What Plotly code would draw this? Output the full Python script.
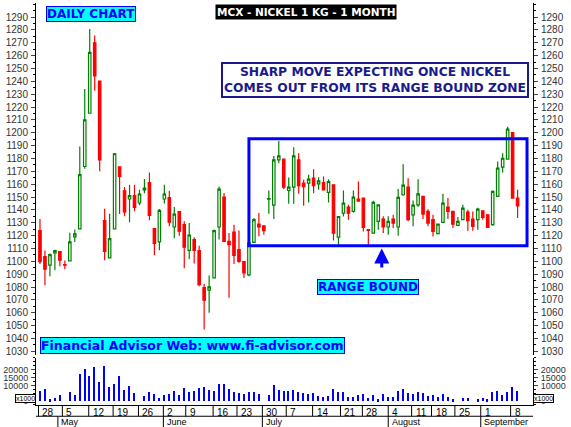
import plotly.graph_objects as go

# daily OHLC (trading day index 1..97)
opens = [1124, 1103.7, 1097, 1106.5, 1107.6, 1097.4, 1100.3, 1119, 1125.2, 1173.8,
         1215.2, 1270, 1240.3, 1131.6, 1102.7, 1125.2, 1173.6, 1154.9, 1148.5, 1151.1,
         1145.4, 1155.5, 1161.2, 1125.4, 1115.1, 1148.5, 1149.5, 1126.7, 1138.6, 1128.5,
         1108.6, 1116.9, 1108.4, 1079.6, 1077.6, 1087.1, 1126.7, 1150, 1115.6, 1122.8,
         1109.1, 1099.8, 1089.5, 1114.8, 1129, 1127.7, 1148.4, 1143.7, 1178.9, 1179.5,
         1155.1, 1157.7, 1178.9, 1160.8, 1160.8, 1164.7, 1160.3, 1161.3, 1153.6, 1159.5,
         1118.9, 1137.5, 1142.2, 1138.8, 1148.4, 1149.2, 1124.6, 1122, 1131.1, 1132.9,
         1126.7, 1132.9, 1126.7, 1151.8, 1157.7, 1136.2, 1144, 1150.5, 1138.8, 1132.4,
         1121.5, 1130.3, 1142.2, 1138.8, 1128, 1132.4, 1138.3, 1132.9, 1132.4, 1139.3,
         1136.2, 1128.5, 1150.5, 1173.3, 1179.5, 1200.2, 1149.2]
highs = [1133, 1108.4, 1106, 1109.1, 1107.6, 1100.6, 1122.3, 1124.7, 1189.4, 1234,
         1280.7, 1275.8, 1240.3, 1141, 1137, 1184.2, 1173.6, 1157.8, 1159.6, 1159.6,
         1155.7, 1164, 1169.2, 1125.4, 1140.7, 1159.6, 1155, 1142.3, 1138.6, 1131.1,
         1129.8, 1118.7, 1112.2, 1082.5, 1089, 1124.7, 1158.3, 1153.1, 1122, 1128.5,
         1123.9, 1099.8, 1115.6, 1133.7, 1137.6, 1128, 1155.1, 1182, 1193.7, 1179.5,
         1165.2, 1188.8, 1184.1, 1163.4, 1167.3, 1171.7, 1165.5, 1166, 1163.9, 1159.5,
         1134.9, 1155.1, 1144, 1155.1, 1162.1, 1149.2, 1124.6, 1147.1, 1144, 1135,
         1135, 1136.2, 1156.2, 1175.6, 1164.7, 1147.4, 1163.9, 1150.5, 1140.6, 1136.2,
         1129, 1152.5, 1149.2, 1138.8, 1134.4, 1144, 1140.1, 1138.8, 1141.7, 1139.3,
         1136.2, 1155.1, 1177.6, 1184.1, 1204.8, 1200.2, 1155.7]
lows = [1098, 1081.4, 1088.4, 1093.1, 1096.2, 1093.9, 1100.3, 1115.1, 1125.2, 1172,
        1215, 1232.8, 1170, 1100.9, 1102.7, 1125.2, 1136.8, 1135, 1130.4, 1138.9,
        1143.6, 1153, 1131.9, 1104.7, 1108.6, 1144.9, 1127.3, 1118, 1120, 1094.6,
        1101.6, 1098.3, 1080.7, 1047, 1060, 1087.1, 1116.9, 1115.6, 1071.6, 1098,
        1098.8, 1087.1, 1088.4, 1114.8, 1119.5, 1120.7, 1137, 1132.9, 1176.4, 1156.2,
        1144.8, 1144.8, 1152.5, 1143.2, 1145.8, 1153, 1155.6, 1155.1, 1145.8, 1116.3,
        1112.2, 1134.9, 1132.4, 1138, 1146.9, 1123.3, 1111.7, 1122, 1124.6, 1122,
        1120.7, 1125.9, 1119.9, 1151, 1131.1, 1127.2, 1142.2, 1132.9, 1127.2, 1119.4,
        1121.5, 1129.8, 1132.9, 1125.9, 1128, 1132.4, 1123.8, 1123.8, 1124.6, 1132.4,
        1126.4, 1127.7, 1150.5, 1169.1, 1179.5, 1149.2, 1133.7]
closes = [1099.8, 1093.9, 1105.2, 1108.4, 1100.9, 1097, 1115.1, 1121.3, 1167.4, 1210,
          1262.6, 1244.2, 1179, 1107.8, 1117.7, 1183.7, 1166.1, 1138.4, 1151.1, 1142,
          1152.4, 1157, 1135.8, 1114, 1139.7, 1152.4, 1130.4, 1136.8, 1123.4, 1111,
          1120.5, 1108.6, 1081.9, 1069.8, 1080.1, 1123.9, 1156.2, 1115.6, 1113, 1104.7,
          1100, 1091, 1114.3, 1132.4, 1126.7, 1123.8, 1148.9, 1178.9, 1182, 1157.7,
          1157.7, 1182, 1158.8, 1158.2, 1163.9, 1158.8, 1162.6, 1155.6, 1162.1, 1122,
          1134.9, 1145.3, 1137.5, 1150, 1146.9, 1126.4, 1124, 1145.8, 1144, 1126.7,
          1131.1, 1129.8, 1149.7, 1159.3, 1132.4, 1143.7, 1152.5, 1136.8, 1129.8, 1123.3,
          1129, 1145.3, 1138.8, 1129, 1131.1, 1141.4, 1131.6, 1127.2, 1140.6, 1134.2,
          1126.4, 1154.4, 1172.5, 1180.2, 1202.8, 1149.2, 1143.2]
volumes = [6730, 7850, 1120, 1680, 3930, 0, 5610, 3930, 17580, 20200,
           15900, 22070, 11970, 22630, 8980, 10660, 15900, 7290, 9540, 5050,
           0, 3370, 5610, 4490, 1680, 3930, 4490, 6170, 3930, 8420,
           5610, 6170, 8420, 8980, 7290, 6170, 10660, 11220, 7850, 5610,
           5050, 4490, 5610, 5610, 4490, 0, 3930, 10100, 7290, 6170,
           6170, 7290, 5610, 5050, 4490, 5050, 3370, 2800, 3370, 7850,
           5610, 5610, 2800, 2800, 3930, 4490, 1680, 3930, 1120, 4490,
           2800, 2800, 6730, 7850, 5050, 4490, 5610, 5050, 3370, 3930,
           2800, 4490, 2800, 1120, 0, 2240, 2240, 0, 1120, 1680,
           1120, 5610, 6170, 3930, 5610, 8980, 6170]
days = list(range(1, len(opens) + 1))

week_ticks = [0.7, 5.5, 10.8, 15.7, 20.8, 25.8, 30.3, 35.8, 40.6, 45.7,
              50.5, 55.8, 61.4, 65.8, 71, 75.7, 79.7, 84.4, 89.6, 95.6]
week_labels = ["28", "5", "12", "19", "26", "2", "9", "16", "23", "30",
               "7", "14", "21", "28", "4", "11", "18", "25", "1", "8"]
month_pos = [4.6, 25.8, 45.7, 71, 89.6]
month_labels = ["May", "June", "July", "August", "September"]

price_ticks = list(range(1030, 1300, 10))
vol_ticks = [0, 10000, 15000, 20000]
vol_text = ["0", "10000", "15000", "20000"]

BLUE = "#0000ff"
NAVY = "#1a1a8c"
CYAN = "#00ffff"
FONT = "DejaVu Sans"

fig = go.Figure()
fig.add_trace(go.Candlestick(
    x=days, open=opens, high=highs, low=lows, close=closes,
    increasing=dict(line=dict(color="#008000", width=1.2), fillcolor="white"),
    decreasing=dict(line=dict(color="#ff0000", width=1.2), fillcolor="#ff0000"),
    whiskerwidth=0, showlegend=False, xaxis="x", yaxis="y"))
# ghost traces so the right-hand axes get drawn too
fig.add_trace(go.Scatter(x=[days[0], days[-1]], y=[price_ticks[0], price_ticks[-1]],
                         mode="markers", marker=dict(opacity=0), hoverinfo="skip",
                         showlegend=False, xaxis="x", yaxis="y3"))
fig.add_trace(go.Bar(x=days, y=volumes, marker=dict(color=BLUE, line=dict(width=0)),
                     width=0.3, showlegend=False, xaxis="x2", yaxis="y2"))
fig.add_trace(go.Scatter(x=[days[0], days[-1]], y=[0, vol_ticks[-1]],
                         mode="markers", marker=dict(opacity=0), hoverinfo="skip",
                         showlegend=False, xaxis="x2", yaxis="y4"))

tickfont = dict(family="Arial", size=10, color="#333")
yax = dict(range=[1027, 1301], tickvals=price_ticks, ticks="outside", ticklen=4,
           tickfont=tickfont, showgrid=False, zeroline=False, showline=True,
           linecolor="black", linewidth=1, domain=[0.124, 1], automargin=False,
           ticklabelstandoff=1,
           minor=dict(ticks="outside", ticklen=2, dtick=5, tickcolor="black"))
vax = dict(range=[-2500, 27500], tickvals=vol_ticks, ticktext=vol_text,
           ticks="outside", ticklen=4, tickfont=dict(tickfont, size=9),
           showgrid=False, zeroline=False, showline=True, linecolor="black",
           linewidth=1, domain=[0, 0.117], automargin=False, ticklabelstandoff=1,
           minor=dict(ticks="outside", ticklen=2, dtick=2500, tickcolor="black"))

fig.update_layout(
    width=571, height=427, margin=dict(l=36, r=38, t=3, b=22),
    paper_bgcolor="white", plot_bgcolor="white",
    xaxis=dict(range=[0.2, 100.1], showticklabels=False, ticks="", showgrid=False,
               zeroline=False, rangeslider=dict(visible=False), anchor="y",
               matches="x2", automargin=False),
    xaxis2=dict(range=[0.2, 100.1], showticklabels=False, ticks="", showgrid=False,
                zeroline=False, showline=True, linecolor="black", anchor="y2",
                automargin=False),
    yaxis=yax,
    yaxis3=dict(yax, overlaying="y", side="right", anchor="x"),
    yaxis2=vax,
    yaxis4=dict(vax, overlaying="y2", side="right", anchor="x2"),
    bargap=0,
)

shapes = []
for t in week_ticks:
    shapes.append(dict(type="line", xref="x2", yref="paper", x0=t, x1=t,
                       y0=-0.028, y1=0, line=dict(color="black", width=1)))
for t in month_pos:
    shapes.append(dict(type="line", xref="x2", yref="paper", x0=t, x1=t,
                       y0=-0.055, y1=-0.028, line=dict(color="black", width=1)))
shapes.append(dict(type="line", xref="paper", yref="paper", x0=0, x1=1,
                   y0=-0.028, y1=-0.028, line=dict(color="black", width=1)))
shapes.append(dict(type="rect", xref="x", yref="y", x0=43, x1=98.9,
                   y0=1112.2, y1=1195.3, line=dict(color=BLUE, width=3)))
fig.update_layout(shapes=shapes)

ann = []
for pos, lab in zip(week_ticks, week_labels):
    ann.append(dict(x=pos + 0.4, y=-0.001, xref="x2", yref="paper", text=lab,
                    showarrow=False, xanchor="left", yanchor="top",
                    font=dict(family="Arial", size=10, color="black")))
for pos, lab in zip(month_pos, month_labels):
    ann.append(dict(x=pos + 0.3, y=-0.026, xref="x2", yref="paper", text=lab,
                    showarrow=False, xanchor="left", yanchor="top",
                    font=dict(family="Arial", size=9, color="black")))
ann += [
    dict(x=0.02, y=0.993, xref="paper", yref="paper", text="<b>DAILY CHART</b>",
         showarrow=False, xanchor="left", yanchor="top", bgcolor=CYAN,
         bordercolor=BLUE, borderwidth=1, borderpad=0,
         font=dict(family=FONT, size=12, color=BLUE)),
    dict(x=0.543, y=0.998, xref="paper", yref="paper",
         text="<b>MCX - NICKEL 1 KG - 1 MONTH</b>", showarrow=False,
         xanchor="center", yanchor="top", bgcolor="black", borderpad=1,
         font=dict(family=FONT, size=10.5, color="white")),
    dict(x=0.682, y=0.853, xref="paper", yref="paper",
         text="<b>SHARP MOVE EXPECTING ONCE NICKEL<br>COMES OUT FROM ITS RANGE BOUND ZONE</b>",
         showarrow=False, xanchor="center", yanchor="top", bgcolor="white",
         bordercolor=NAVY, borderwidth=2, borderpad=1, align="center",
         font=dict(family=FONT, size=12.3, color=NAVY)),
    dict(x=69.7, y=1110, xref="x", yref="y", ax=69.7, ay=1094, axref="x", ayref="y",
         text="", showarrow=True, arrowhead=2, arrowsize=1, arrowwidth=3,
         arrowcolor=BLUE),
    dict(x=66.9, y=1080, xref="x", yref="y", text="<b>RANGE BOUND</b>",
         showarrow=False, xanchor="center", yanchor="middle", bgcolor=CYAN,
         bordercolor=BLUE, borderwidth=1, borderpad=0,
         font=dict(family=FONT, size=12, color=BLUE)),
    dict(x=0.008, y=0.148, xref="paper", yref="paper",
         text="<b>Financial Advisor Web: www.fi-advisor.com</b>", showarrow=False,
         xanchor="left", yanchor="middle", bgcolor=CYAN, bordercolor=BLUE,
         borderwidth=1, borderpad=0, font=dict(family=FONT, size=12.5, color=BLUE)),
    dict(x=0, y=0.005, xref="paper", yref="paper", text="x1000", showarrow=False,
         xanchor="right", yanchor="bottom", bgcolor="white", bordercolor="black",
         borderwidth=1, borderpad=0, font=dict(family="Arial", size=7, color="black")),
    dict(x=1, y=0.005, xref="paper", yref="paper", text="x1000", showarrow=False,
         xanchor="left", yanchor="bottom", bgcolor="white", bordercolor="black",
         borderwidth=1, borderpad=0, font=dict(family="Arial", size=7, color="black")),
]
fig.update_layout(annotations=ann)

# drop the browser's default page margin so the figure sits at the window corner
fig.write_html("out.html", config={"displayModeBar": False},
               post_script="document.body.style.margin='0';")
